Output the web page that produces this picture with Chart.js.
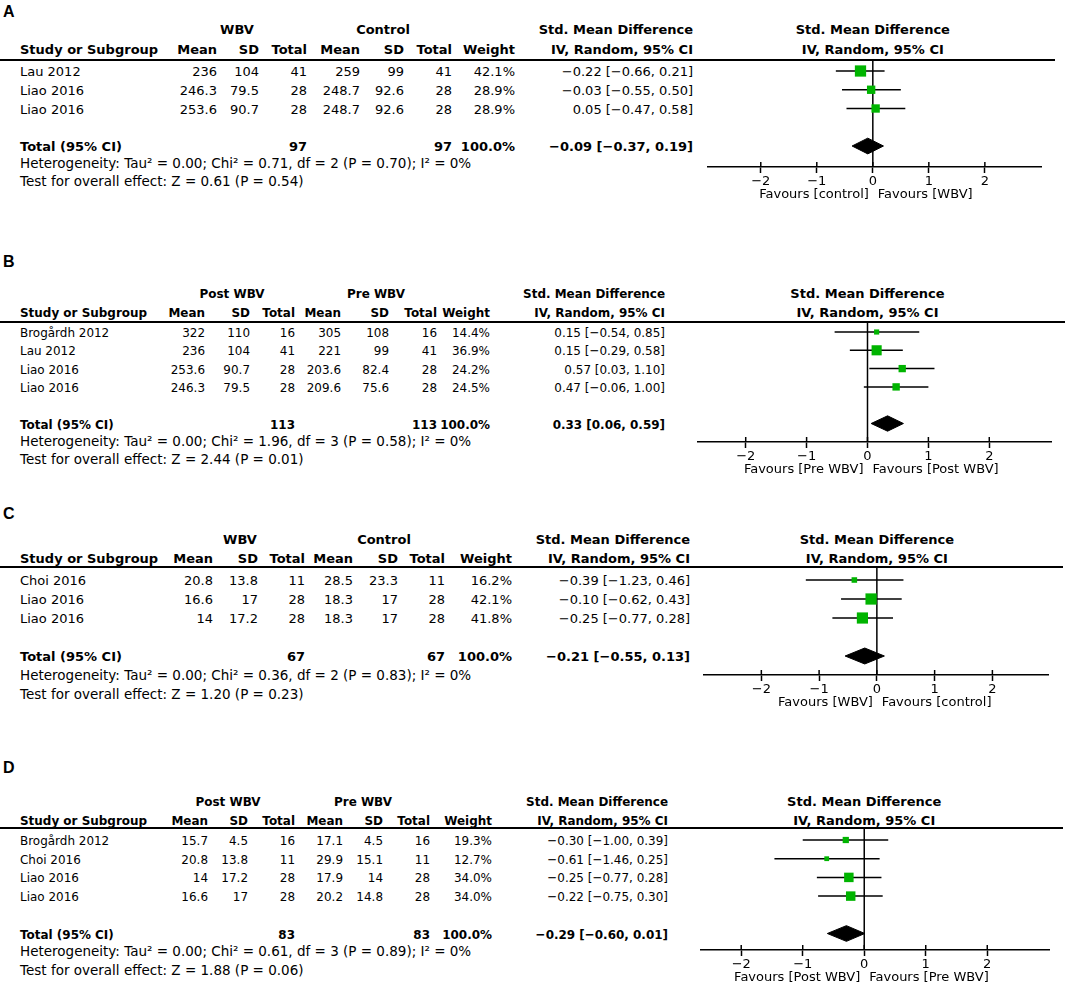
<!DOCTYPE html>
<html>
<head>
<meta charset="utf-8">
<script src="https://cdn.jsdelivr.net/npm/chart.js@4.4.1/dist/chart.umd.min.js"></script>
<style>
  body { margin: 0; background: #fff; width: 1084px; height: 987px; position: relative; overflow: hidden;
         font-family: "DejaVu Sans", sans-serif; font-size: 13px; color: #000; }
  .t { position: absolute; white-space: nowrap; line-height: 1; }
  .hl { position: absolute; left: 0; height: 2px; background: #000; }
  canvas { position: absolute; }
</style>
</head>
<body>
<script>
// ---- Panel A: WBV vs Control ----
const studiesA = ['Lau 2012', 'Liao 2016', 'Liao 2016'];
const groupsA = ['WBV', 'Control'];
const mean1A = [236, 246.3, 253.6];
const sd1A = [104, 79.5, 90.7];
const n1A = [41, 28, 28];
const mean2A = [259, 248.7, 248.7];
const sd2A = [99, 92.6, 92.6];
const n2A = [41, 28, 28];
const weightA = [42.1, 28.9, 28.9];
const smdA = [-0.22, -0.03, 0.05];
const loA = [-0.66, -0.55, -0.47];
const hiA = [0.21, 0.50, 0.58];
const totalNA = [97, 97];
const totalA = [-0.09, -0.37, 0.19];
const hetA = 'Heterogeneity: Tau² = 0.00; Chi² = 0.71, df = 2 (P = 0.70); I² = 0%';
const testA = 'Test for overall effect: Z = 0.61 (P = 0.54)';
const favoursA = ['Favours [control]', 'Favours [WBV]'];

// ---- Panel B: Post vs Pre WBV ----
const studiesB = ['Brogårdh 2012', 'Lau 2012', 'Liao 2016', 'Liao 2016'];
const groupsB = ['Post WBV', 'Pre WBV'];
const mean1B = [322, 236, 253.6, 246.3];
const sd1B = [110, 104, 90.7, 79.5];
const n1B = [16, 41, 28, 28];
const mean2B = [305, 221, 203.6, 209.6];
const sd2B = [108, 99, 82.4, 75.6];
const n2B = [16, 41, 28, 28];
const weightB = [14.4, 36.9, 24.2, 24.5];
const smdB = [0.15, 0.15, 0.57, 0.47];
const loB = [-0.54, -0.29, 0.03, -0.06];
const hiB = [0.85, 0.58, 1.10, 1.00];
const totalNB = [113, 113];
const totalB = [0.33, 0.06, 0.59];
const hetB = 'Heterogeneity: Tau² = 0.00; Chi² = 1.96, df = 3 (P = 0.58); I² = 0%';
const testB = 'Test for overall effect: Z = 2.44 (P = 0.01)';
const favoursB = ['Favours [Pre WBV]', 'Favours [Post WBV]'];

// ---- Panel C: WBV vs Control ----
const studiesC = ['Choi 2016', 'Liao 2016', 'Liao 2016'];
const groupsC = ['WBV', 'Control'];
const mean1C = [20.8, 16.6, 14];
const sd1C = [13.8, 17, 17.2];
const n1C = [11, 28, 28];
const mean2C = [28.5, 18.3, 18.3];
const sd2C = [23.3, 17, 17];
const n2C = [11, 28, 28];
const weightC = [16.2, 42.1, 41.8];
const smdC = [-0.39, -0.10, -0.25];
const loC = [-1.23, -0.62, -0.77];
const hiC = [0.46, 0.43, 0.28];
const totalNC = [67, 67];
const totalC = [-0.21, -0.55, 0.13];
const hetC = 'Heterogeneity: Tau² = 0.00; Chi² = 0.36, df = 2 (P = 0.83); I² = 0%';
const testC = 'Test for overall effect: Z = 1.20 (P = 0.23)';
const favoursC = ['Favours [WBV]', 'Favours [control]'];

// ---- Panel D: Post vs Pre WBV ----
const studiesD = ['Brogårdh 2012', 'Choi 2016', 'Liao 2016', 'Liao 2016'];
const groupsD = ['Post WBV', 'Pre WBV'];
const mean1D = [15.7, 20.8, 14, 16.6];
const sd1D = [4.5, 13.8, 17.2, 17];
const n1D = [16, 11, 28, 28];
const mean2D = [17.1, 29.9, 17.9, 20.2];
const sd2D = [4.5, 15.1, 14, 14.8];
const n2D = [16, 11, 28, 28];
const weightD = [19.3, 12.7, 34.0, 34.0];
const smdD = [-0.30, -0.61, -0.25, -0.22];
const loD = [-1.00, -1.46, -0.77, -0.75];
const hiD = [0.39, 0.25, 0.28, 0.30];
const totalND = [83, 83];
const totalD = [-0.29, -0.60, 0.01];
const hetD = 'Heterogeneity: Tau² = 0.00; Chi² = 0.61, df = 3 (P = 0.89); I² = 0%';
const testD = 'Test for overall effect: Z = 1.88 (P = 0.06)';
const favoursD = ['Favours [Post WBV]', 'Favours [Pre WBV]'];

const axisTicks = [-2, -1, 0, 1, 2];
const totalWeight = 100.0;

// page layout (pixels), one entry per panel; sx squeezes the table text
const layouts = {
  A: { label: 12, group: 29, head: 49, line: 60, row0: 71, step: 18.75, axis: 167, het: 164, test: 182, sx: 1,
       cols: [217, 259, 307, 360, 404, 452, 515, 693], groups: [237, 383],
       left: 707, right: 1042, xmin: -2.96, xmax: 3.02, lineRight: 1055 },
  B: { label: 262, group: 293, head: 312, line: 322, row0: 332, step: 18.3, axis: 442, het: 442, test: 460, sx: 0.92,
       cols: [205, 250, 295, 341, 389, 437, 490, 665], groups: [232, 376],
       left: 697, right: 1052, xmin: -2.8, xmax: 3.03, lineRight: 1065 },
  C: { label: 514, group: 539, head: 558, line: 567, row0: 580, step: 19, axis: 675, het: 676, test: 695, sx: 1,
       cols: [213, 258, 305, 353, 398, 445, 512, 690], groups: [240, 384],
       left: 703, right: 1049, xmin: -3.01, xmax: 2.98, lineRight: 1063 },
  D: { label: 768, group: 801, head: 820, line: 828, row0: 840, step: 18.7, axis: 950, het: 952, test: 971, sx: 0.92,
       cols: [208, 248, 295, 343, 383, 430, 492, 668], groups: [228, 363],
       left: 700, right: 1050, xmin: -2.67, xmax: 3.02, lineRight: 1063 }
};

const panels = [
  { id: 'A', studies: studiesA, groups: groupsA, m1: mean1A, s1: sd1A, n1: n1A, m2: mean2A, s2: sd2A, n2: n2A,
    w: weightA, smd: smdA, lo: loA, hi: hiA, totN: totalNA, tot: totalA, het: hetA, test: testA, fav: favoursA },
  { id: 'B', studies: studiesB, groups: groupsB, m1: mean1B, s1: sd1B, n1: n1B, m2: mean2B, s2: sd2B, n2: n2B,
    w: weightB, smd: smdB, lo: loB, hi: hiB, totN: totalNB, tot: totalB, het: hetB, test: testB, fav: favoursB },
  { id: 'C', studies: studiesC, groups: groupsC, m1: mean1C, s1: sd1C, n1: n1C, m2: mean2C, s2: sd2C, n2: n2C,
    w: weightC, smd: smdC, lo: loC, hi: hiC, totN: totalNC, tot: totalC, het: hetC, test: testC, fav: favoursC },
  { id: 'D', studies: studiesD, groups: groupsD, m1: mean1D, s1: sd1D, n1: n1D, m2: mean2D, s2: sd2D, n2: n2D,
    w: weightD, smd: smdD, lo: loD, hi: hiD, totN: totalND, tot: totalD, het: hetD, test: testD, fav: favoursD }
];

const GREEN = '#00b400';
const FONT = '"DejaVu Sans", sans-serif';

function txt(x, y, s, align, bold, extra, sx) {
  const d = document.createElement('div');
  d.className = 't';
  d.textContent = s;
  d.style.left = x + 'px';
  d.style.top = y + 'px';
  const tx = align === 'r' ? '-100%' : align === 'c' ? '-50%' : '0';
  d.style.transformOrigin = (align === 'r' ? 'right' : align === 'c' ? 'center' : 'left') + ' center';
  d.style.transform = 'translate(' + tx + ',-50%)' + (sx && sx !== 1 ? ' scaleX(' + sx + ')' : '');
  if (bold) d.style.fontWeight = 'bold';
  if (extra) Object.assign(d.style, extra);
  document.body.appendChild(d);
  return d;
}

function num(v) { return (v < 0 ? '\u2212' : '') + Math.abs(v).toFixed(2); }
function ci(s, l, h) { return num(s) + ' [' + num(l) + ', ' + num(h) + ']'; }

// zero line, little ticks above the axis and the two "Favours" captions
const forestDecor = {
  id: 'forestDecor',
  beforeDatasetsDraw(chart) {
    const { ctx, chartArea, scales } = chart;
    const x0 = scales.x.getPixelForValue(0);
    ctx.save();
    ctx.strokeStyle = '#000';
    ctx.lineWidth = 1.5;
    ctx.beginPath();
    ctx.moveTo(x0, chartArea.top);
    ctx.lineTo(x0, chartArea.bottom);
    ctx.stroke();
    ctx.restore();
  },
  afterDraw(chart, args, opts) {
    const { ctx, chartArea, scales } = chart;
    const x0 = scales.x.getPixelForValue(0);
    ctx.save();
    ctx.strokeStyle = '#000';
    ctx.lineWidth = 1.5;
    axisTicks.forEach(v => {
      const x = scales.x.getPixelForValue(v);
      ctx.beginPath();
      ctx.moveTo(x, chartArea.bottom - 5);
      ctx.lineTo(x, chartArea.bottom);
      ctx.stroke();
    });
    ctx.fillStyle = '#000';
    ctx.font = '13px ' + FONT;
    ctx.textBaseline = 'middle';
    ctx.textAlign = 'right';
    ctx.fillText(opts.fav[0], x0 - 4, chartArea.bottom + 28);
    ctx.textAlign = 'left';
    ctx.fillText(opts.fav[1], x0 + 5, chartArea.bottom + 28);
    ctx.restore();
  }
};

Chart.defaults.font.family = FONT;
Chart.defaults.font.size = 13;
Chart.defaults.color = '#000';

panels.forEach(p => {
  const L = layouts[p.id];
  const n = p.studies.length;
  const cols = L.cols;
  const sx = L.sx;

  txt(3, L.label, p.id, 'l', true, { fontFamily: '"Liberation Sans", Arial, sans-serif', fontSize: '16px' });

  // table header
  txt(L.groups[0], L.group, p.groups[0], 'c', true, null, sx);
  txt(L.groups[1], L.group, p.groups[1], 'c', true, null, sx);
  txt(cols[7], L.group, 'Std. Mean Difference', 'r', true, null, sx);
  txt(20, L.head, 'Study or Subgroup', 'l', true, null, sx);
  ['Mean', 'SD', 'Total', 'Mean', 'SD', 'Total', 'Weight', 'IV, Random, 95% CI']
    .forEach((h, k) => txt(cols[k], L.head, h, 'r', true, null, sx));

  const hl = document.createElement('div');
  hl.className = 'hl';
  hl.style.top = (L.line - 1) + 'px';
  hl.style.width = L.lineRight + 'px';
  document.body.appendChild(hl);

  // study rows
  for (let i = 0; i < n; i++) {
    const y = L.row0 + i * L.step;
    txt(20, y, p.studies[i], 'l', false, null, sx);
    [p.m1[i], p.s1[i], p.n1[i], p.m2[i], p.s2[i], p.n2[i]]
      .forEach((v, k) => txt(cols[k], y, String(v), 'r', false, null, sx));
    txt(cols[6], y, p.w[i].toFixed(1) + '%', 'r', false, null, sx);
    txt(cols[7], y, ci(p.smd[i], p.lo[i], p.hi[i]), 'r', false, null, sx);
  }

  // total row
  const ty = L.row0 + (n + 1) * L.step;
  txt(20, ty, 'Total (95% CI)', 'l', true, null, sx);
  txt(cols[2], ty, String(p.totN[0]), 'r', true, null, sx);
  txt(cols[5], ty, String(p.totN[1]), 'r', true, null, sx);
  txt(cols[6], ty, totalWeight.toFixed(1) + '%', 'r', true, null, sx);
  txt(cols[7], ty, ci(p.tot[0], p.tot[1], p.tot[2]), 'r', true, null, sx);
  txt(20, L.het, p.het, 'l', false, { fontSize: '13.5px' });
  txt(20, L.test, p.test, 'l', false, { fontSize: '13.5px' });

  // forest plot
  const cv = document.createElement('canvas');
  const W = L.right - L.left, H = L.axis - L.line + 40;
  cv.width = W; cv.height = H;
  cv.style.left = L.left + 'px';
  cv.style.top = L.line + 'px';
  cv.style.width = W + 'px';
  cv.style.height = H + 'px';
  document.body.appendChild(cv);

  const datasets = [];
  for (let i = 0; i < n; i++) {
    datasets.push({
      type: 'line', data: [{ x: p.lo[i], y: i }, { x: p.hi[i], y: i }],
      borderColor: '#000', borderWidth: 1.5, pointRadius: 0, fill: false, order: 2
    });
  }
  datasets.push({
    type: 'scatter', data: p.smd.map((v, i) => ({ x: v, y: i })),
    pointStyle: 'rect',
    pointRadius: ctx => (2 + 0.22 * p.w[ctx.dataIndex]) / Math.SQRT2,
    pointHoverRadius: ctx => (2 + 0.22 * p.w[ctx.dataIndex]) / Math.SQRT2,
    backgroundColor: GREEN, borderColor: GREEN, borderWidth: 0, order: 1
  });
  const tIdx = n + 1, dh = 0.42;
  datasets.push({
    type: 'line',
    data: [{ x: p.tot[1], y: tIdx }, { x: p.tot[0], y: tIdx - dh }, { x: p.tot[2], y: tIdx },
           { x: p.tot[0], y: tIdx + dh }, { x: p.tot[1], y: tIdx }],
    borderColor: '#000', backgroundColor: '#000', borderWidth: 1, pointRadius: 0,
    fill: 'shape', tension: 0, order: 0
  });

  const chart = new Chart(cv, {
    data: { datasets },
    options: {
      responsive: false,
      animation: false,
      events: [],
      layout: { padding: 0, autoPadding: false },
      plugins: { legend: { display: false }, tooltip: { enabled: false }, forestDecor: { fav: p.fav } },
      scales: {
        x: {
          type: 'linear', min: L.xmin, max: L.xmax,
          afterFit: s => { s.height = 40; },
          afterBuildTicks: s => { s.ticks = s.ticks.filter(t => axisTicks.includes(t.value)); },
          ticks: {
            stepSize: 1, includeBounds: false, padding: 1, maxRotation: 0, autoSkip: false,
            callback: v => (v < 0 ? '\u2212' + (-v) : String(v))
          },
          grid: { drawOnChartArea: false, tickLength: 6, tickWidth: 1.5, tickColor: '#000' },
          border: { display: true, color: '#000', width: 1.5 }
        },
        y: {
          type: 'linear', reverse: true, display: false,
          min: (L.line - L.row0) / L.step, max: (L.axis - L.row0) / L.step
        }
      }
    },
    plugins: [forestDecor]
  });

  const zeroX = L.left + chart.scales.x.getPixelForValue(0);
  txt(zeroX, L.group, 'Std. Mean Difference', 'c', true);
  txt(zeroX, L.head, 'IV, Random, 95% CI', 'c', true);
});
</script>
</body>
</html>
